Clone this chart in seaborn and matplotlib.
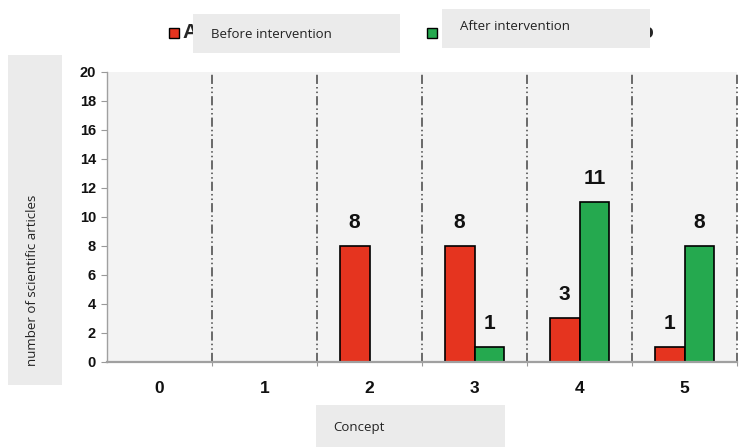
import matplotlib
matplotlib.use("Agg")
import matplotlib.pyplot as plt
from matplotlib.patches import Rectangle
import seaborn as sns
import pandas as pd

# Data
concepts = ["0", "1", "2", "3", "4", "5"]
before = [0, 0, 8, 8, 3, 1]
after = [0, 0, 0, 1, 11, 8]
groups = ["Before intervention", "After intervention"]
yticks = [0, 2, 4, 6, 8, 10, 12, 14, 16, 18, 20]

W, H = 747, 447
sns.set_theme(style="white")
plt.rcParams["font.family"] = ["Liberation Sans", "DejaVu Sans"]

rows = []
for c, b, a in zip(concepts, before, after):
    if b:
        rows.append({"concept": c, "group": groups[0], "n": b})
    if a:
        rows.append({"concept": c, "group": groups[1], "n": a})
df = pd.DataFrame(rows)

colors = {groups[0]: "#E5341F", groups[1]: "#25A94F"}

fig = plt.figure(figsize=(W / 100, H / 100), dpi=100)
fig.patch.set_facecolor("white")
ax = fig.add_axes([107 / W, 1 - 361.7 / H, 630 / W, 290.2 / H])
ax.set_facecolor("#f3f3f3")

sns.barplot(data=df, x="concept", y="n", hue="group", order=concepts,
            hue_order=groups, palette=colors, width=0.5714, dodge=True,
            edgecolor="black", linewidth=1.2, saturation=1, legend=False, ax=ax)

for cont in ax.containers:
    ax.bar_label(cont, padding=10, fontsize=15, fontweight="bold", color="#111111")

ax.set_xlim(-0.5, 5.5)
ax.set_ylim(0, 20)
ax.set_yticks(yticks)
ax.set_yticklabels([str(v) for v in yticks], fontsize=10.5, fontweight="bold", color="#111111")
ax.set_xticks(range(len(concepts)))
ax.set_xticklabels(concepts, fontsize=12.5, fontweight="bold", color="#111111")
ax.set_xticks([0.5, 1.5, 2.5, 3.5, 4.5, 5.5], minor=True)
ax.tick_params(axis="y", left=True, length=4, width=0.8, color="#999999", pad=4)
ax.tick_params(axis="x", which="major", bottom=False, pad=8)
ax.tick_params(axis="x", which="minor", bottom=True, length=3, width=0.8, color="#999999")
ax.set_xlabel("")
ax.set_ylabel("")

for side in ["top", "right"]:
    ax.spines[side].set_visible(False)
ax.spines["left"].set_color("#a0a0a0")
ax.spines["left"].set_linewidth(1.0)
ax.spines["bottom"].set_color("#a0a0a0")
ax.spines["bottom"].set_linewidth(1.6)

# dash-dot separators between concepts
for xv in [0.5, 1.5, 2.5, 3.5, 4.5, 5.5]:
    ax.axvline(xv, color="#444444", linewidth=1.1, dashes=(6, 2, 1, 2, 1, 2),
               clip_on=False, zorder=0.5)


def box(x0, y0, x1, y1, color="#ebebeb"):
    fig.add_artist(Rectangle((x0 / W, 1 - y1 / H), (x1 - x0) / W, (y1 - y0) / H,
                             transform=fig.transFigure, facecolor=color,
                             edgecolor="none", zorder=5))


def label(x, y, s, **kw):
    fig.text(x / W, 1 - y / H, s, zorder=6, **kw)


# legend markers
fig.add_artist(Rectangle((169 / W, 1 - 38 / H), 10 / W, 10 / H, transform=fig.transFigure,
                         facecolor=colors[groups[0]], edgecolor="black", linewidth=1.0, zorder=4))
fig.add_artist(Rectangle((427 / W, 1 - 38 / H), 10 / W, 10 / H, transform=fig.transFigure,
                         facecolor=colors[groups[1]], edgecolor="black", linewidth=1.0, zorder=4))
fig.text(182 / W, 1 - 33 / H, "A", fontsize=15, fontweight="bold", va="center", zorder=4)
fig.text(640 / W, 1 - 33 / H, "o", fontsize=15, fontweight="bold", va="center", zorder=4)

lab_font = dict(family=["Open Sans", "DejaVu Sans"], fontsize=9.5, color="#222222")
box(193, 14, 400, 53)
label(211, 34, groups[0], va="center", **lab_font)
box(442, 9, 650, 48)
label(460, 27, groups[1], va="center", **lab_font)

box(316, 405, 505, 447)
label(333, 427, "Concept", va="center", **lab_font)

box(8, 55, 62, 385)
label(33, 280, "number of scientific articles", rotation=90, ha="center",
      va="center", **lab_font)

fig.savefig("out.png", dpi=100, facecolor="white")
